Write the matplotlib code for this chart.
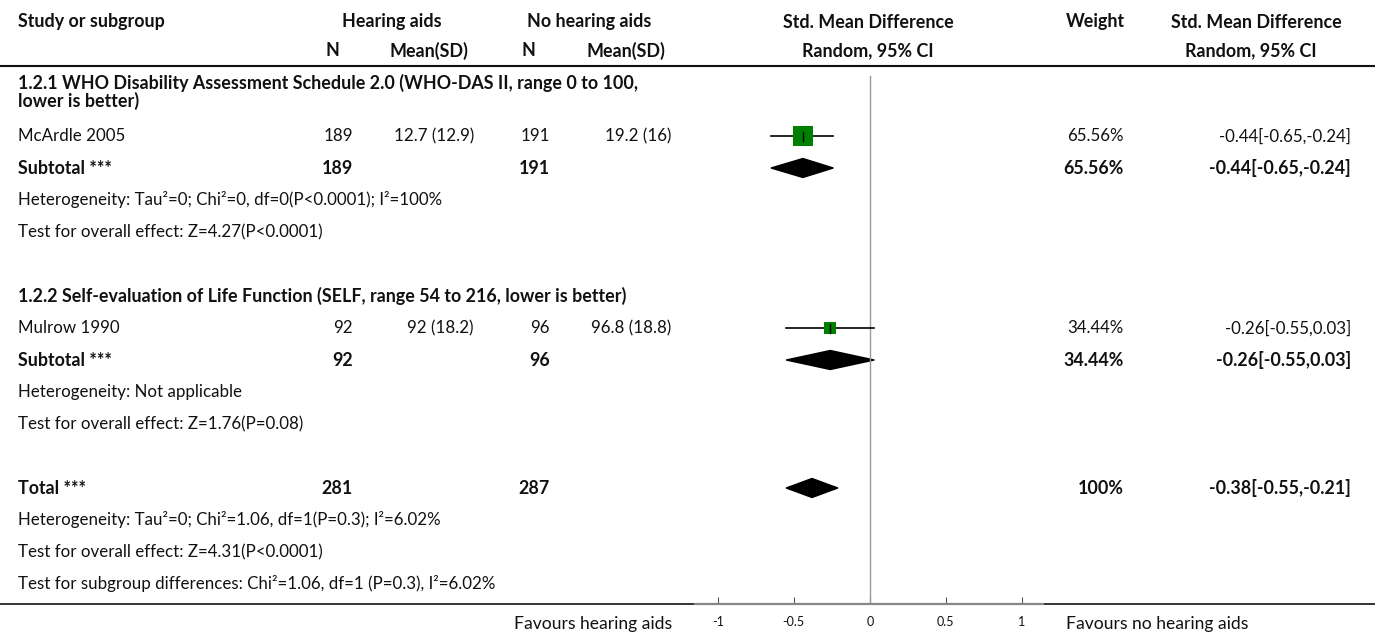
import matplotlib
matplotlib.use("Agg")
import matplotlib.pyplot as plt
from matplotlib.patches import Polygon

plt.rcParams["font.family"] = ["Lato", "DejaVu Sans"]

# study level data
studies = ["McArdle 2005", "Mulrow 1990"]
n_aids = [189, 92]
mean_sd_aids = ["12.7 (12.9)", "92 (18.2)"]
n_none = [191, 96]
mean_sd_none = ["19.2 (16)", "96.8 (18.8)"]
smd = [-0.44, -0.26]
ci_low = [-0.65, -0.55]
ci_high = [-0.24, 0.03]
weights = [65.56, 34.44]

# subgroup / total summaries
sub_titles = [
    "1.2.1 WHO Disability Assessment Schedule 2.0 (WHO-DAS II, range 0 to 100,\nlower is better)",
    "1.2.2 Self-evaluation of Life Function (SELF, range 54 to 216, lower is better)",
]
sub_n_aids = [189, 92]
sub_n_none = [191, 96]
sub_est = [-0.44, -0.26]
sub_low = [-0.65, -0.55]
sub_high = [-0.24, 0.03]
sub_weights = [65.56, 34.44]
sub_het = [
    "Heterogeneity: Tau²=0; Chi²=0, df=0(P<0.0001); I²=100%",
    "Heterogeneity: Not applicable",
]
sub_test = [
    "Test for overall effect: Z=4.27(P<0.0001)",
    "Test for overall effect: Z=1.76(P=0.08)",
]

total_n_aids = 281
total_n_none = 287
total_est = -0.38
total_low = -0.55
total_high = -0.21
total_weight = 100
total_notes = [
    "Heterogeneity: Tau²=0; Chi²=1.06, df=1(P=0.3); I²=6.02%",
    "Test for overall effect: Z=4.31(P<0.0001)",
    "Test for subgroup differences: Chi²=1.06, df=1 (P=0.3), I²=6.02%",
]
tick_vals = [-1, -0.5, 0, 0.5, 1]
tick_labels = ["-1", "-0.5", "0", "0.5", "1"]

W, H = 1375, 635
FS = 12.2
FS_BOLD = 12.9
INK = "#111111"

fig = plt.figure(figsize=(W / 100, H / 100), dpi=100)
tx = fig.add_axes([0, 0, 1, 1])
tx.set_xlim(0, W)
tx.set_ylim(H, 0)
tx.axis("off")

# forest axes: x in effect size, y in pixel rows
top, bottom = 66, 604
fx = fig.add_axes([695 / W, (H - bottom) / H, (1043 - 695) / W, (bottom - top) / H])
fx.set_xlim(-1.15, 1.14)
fx.set_ylim(bottom, top)
fx.patch.set_alpha(0)
for s in ["top", "left", "right"]:
    fx.spines[s].set_visible(False)
fx.spines["bottom"].set_color("#888888")
fx.spines["bottom"].set_linewidth(1.6)
fx.set_yticks([])
fx.set_xticks(tick_vals)
fx.set_xticklabels(tick_labels, fontsize=9, color=INK)
fx.tick_params(axis="x", direction="in", length=5, width=0.8, color="#555555", pad=9)


def txt(x, y, s, ha="left", bold=False, size=None):
    if bold:
        tx.text(x, y, s, ha=ha, va="center", fontsize=size or FS_BOLD,
                color=INK, fontweight="bold")
    else:
        tx.text(x, y, s, ha=ha, va="center", fontsize=size or FS, color=INK)


# header
txt(18, 22, "Study or subgroup", bold=True)
txt(392, 22, "Hearing aids", ha="center", bold=True)
txt(589, 22, "No hearing aids", ha="center", bold=True)
txt(868, 22, "Std. Mean Difference", ha="center", bold=True)
txt(1125, 22, "Weight", ha="right", bold=True)
txt(1256, 22, "Std. Mean Difference", ha="center", bold=True)
txt(332, 51, "N", ha="center", bold=True)
txt(429, 51, "Mean(SD)", ha="center", bold=True)
txt(528, 51, "N", ha="center", bold=True)
txt(626, 51, "Mean(SD)", ha="center", bold=True)
txt(868, 51, "Random, 95% CI", ha="center", bold=True)
txt(1251, 51, "Random, 95% CI", ha="center", bold=True)
tx.plot([0, W], [66, 66], color=INK, lw=1.5)
tx.plot([0, W], [604, 604], color=INK, lw=1.2, zorder=0)

fx.plot([0, 0], [76, 604], color="#999999", lw=1)

title_y = [92, 296]
study_y = [136, 328]
sub_y = [168, 360]

for i in range(2):
    tx.text(18, title_y[i], sub_titles[i], ha="left", va="center", fontsize=FS_BOLD,
            color=INK, fontweight="bold", linespacing=1.0)
    y = study_y[i]
    txt(18, y, studies[i])
    txt(353, y, str(n_aids[i]), ha="right")
    txt(474, y, mean_sd_aids[i], ha="right")
    txt(550, y, str(n_none[i]), ha="right")
    txt(671, y, mean_sd_none[i], ha="right")
    txt(1124, y, f"{weights[i]:.2f}%", ha="right")
    txt(1351, y, f"{smd[i]:.2f}[{ci_low[i]:.2f},{ci_high[i]:.2f}]", ha="right")
    fx.plot([ci_low[i], ci_high[i]], [y, y], color="black", lw=1.2)
    size_px = weights[i] / 100 * 32
    fx.plot(smd[i], y, marker="s", color="#008000", markersize=size_px * 0.72,
            markeredgewidth=0, linestyle="none")
    fx.plot([smd[i], smd[i]], [y - 4.5, y + 4.5], color="black", lw=1)

    y = sub_y[i]
    txt(18, y, "Subtotal ***", bold=True)
    txt(353, y, str(sub_n_aids[i]), ha="right", bold=True)
    txt(550, y, str(sub_n_none[i]), ha="right", bold=True)
    txt(1124, y, f"{sub_weights[i]:.2f}%", ha="right", bold=True)
    txt(1351, y, f"{sub_est[i]:.2f}[{sub_low[i]:.2f},{sub_high[i]:.2f}]",
        ha="right", bold=True)
    fx.add_patch(Polygon([(sub_low[i], y), (sub_est[i], y - 9.5),
                          (sub_high[i], y), (sub_est[i], y + 9.5)],
                         closed=True, color="black"))
    txt(18, y + 32, sub_het[i])
    txt(18, y + 64, sub_test[i])

y = 488
txt(18, y, "Total ***", bold=True)
txt(353, y, str(total_n_aids), ha="right", bold=True)
txt(550, y, str(total_n_none), ha="right", bold=True)
txt(1124, y, f"{total_weight}%", ha="right", bold=True)
txt(1351, y, f"{total_est:.2f}[{total_low:.2f},{total_high:.2f}]", ha="right", bold=True)
fx.add_patch(Polygon([(total_low, y), (total_est, y - 9.5),
                      (total_high, y), (total_est, y + 9.5)],
                     closed=True, color="black"))
for k, note in enumerate(total_notes):
    txt(18, 520 + 32 * k, note)

txt(672, 624, "Favours hearing aids", ha="right", size=12.6)
txt(1066, 624, "Favours no hearing aids", size=12.6)

fig.savefig("out.png", dpi=100)
